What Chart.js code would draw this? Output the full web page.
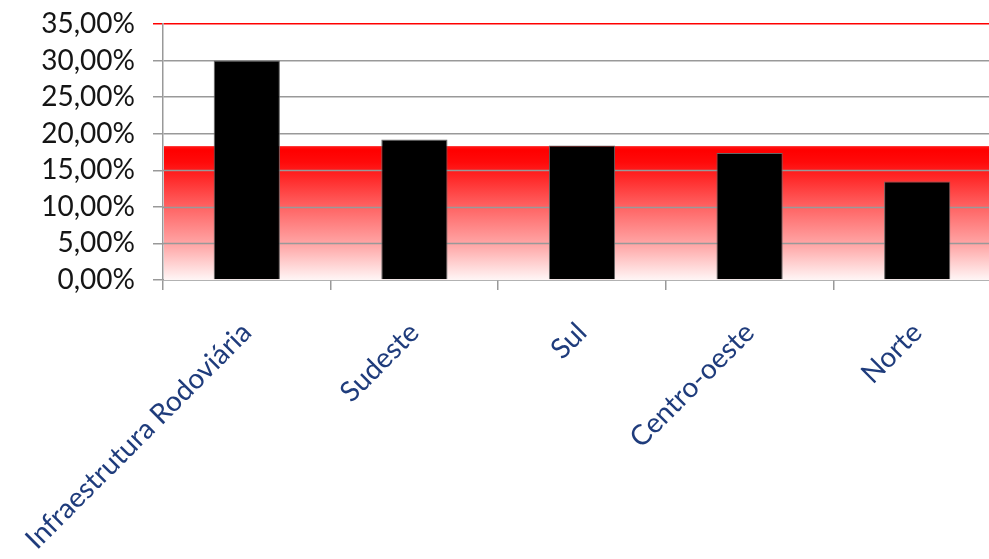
<!DOCTYPE html>
<html>
<head>
<meta charset="utf-8">
<script src="https://cdn.jsdelivr.net/npm/chart.js@4"></script>
<style>
    html, body { margin: 0; padding: 0; background: #fff; overflow: hidden; }
    #wrap { position: relative; width: 1001px; height: 559px; }
</style>
</head>
<body>
<div id="wrap"><canvas id="chart"></canvas></div>
<script>
// Data
const categories = ['Infraestrutura Rodoviária', 'Sudeste', 'Sul', 'Centro-oeste', 'Norte'];
const values = [30.0, 19.2, 18.4, 17.35, 13.45];
const yTicks = [0, 5, 10, 15, 20, 25, 30, 35];
const bandTop = 18.3; // red band behind the bars, from 0 up to this value

const fontFamily = "Lato, 'Open Sans', sans-serif";

// red band fading to white toward the axis
const bandPlugin = {
    id: 'band',
    beforeDatasetsDraw(chart) {
        const { ctx, chartArea, scales } = chart;
        const top = scales.y.getPixelForValue(bandTop);
        const bottom = scales.y.getPixelForValue(0);
        const g = ctx.createLinearGradient(0, top, 0, bottom);
        g.addColorStop(0, 'rgba(255,0,0,0.9)');
        g.addColorStop(0.03, '#ff0000');
        g.addColorStop(0.12, '#ff0a0a');
        g.addColorStop(0.45, '#ff6262');
        g.addColorStop(0.75, '#ffaaaa');
        g.addColorStop(1, '#fff6f6');
        ctx.save();
        ctx.fillStyle = g;
        ctx.fillRect(chartArea.left + 1, top, chartArea.right - chartArea.left, bottom - top);
        // redraw grid lines over the band
        ctx.strokeStyle = '#999';
        ctx.lineWidth = 1.5;
        yTicks.forEach(v => {
            if (v === 0 || v >= bandTop) return;
            const y = Math.round(scales.y.getPixelForValue(v)) + 0.5;
            ctx.beginPath();
            ctx.moveTo(chartArea.left, y);
            ctx.lineTo(chartArea.right, y);
            ctx.stroke();
        });
        ctx.restore();
    }
};

new Chart(document.getElementById('chart'), {
    type: 'bar',
    data: {
        labels: categories,
        datasets: [{
            data: values,
            backgroundColor: '#000',
            borderColor: '#666',
            borderWidth: 1,
            barPercentage: 0.395,
            categoryPercentage: 1
        }]
    },
    options: {
        responsive: true,
        maintainAspectRatio: false,
        animation: false,
        layout: { padding: { top: 24, right: 0, bottom: 0, left: 0 } },
        plugins: {
            legend: { display: false },
            tooltip: { enabled: false }
        },
        scales: {
            x: {
                afterFit(scale) {
                    scale.height = 279;
                    scale.paddingLeft = 0;
                    scale.paddingRight = 0;
                },
                grid: {
                    drawOnChartArea: false,
                    drawTicks: true,
                    tickLength: 10,
                    color: '#999',
                    lineWidth: 1.5
                },
                border: { color: '#999', width: 1.5 },
                ticks: {
                    maxRotation: 45,
                    minRotation: 45,
                    autoSkip: false,
                    padding: 26,
                    color: '#1f3c7c',
                    font: { family: fontFamily, size: 28 }
                }
            },
            y: {
                min: 0,
                max: 35,
                afterFit(scale) {
                    scale.width = 163;
                    scale.paddingTop = 0;
                    scale.paddingBottom = 0;
                },
                afterBuildTicks(scale) {
                    scale.ticks = yTicks.map(v => ({ value: v }));
                },
                grid: {
                    color: ctx => ctx.tick && ctx.tick.value === 35 ? '#ff0000' : '#999',
                    lineWidth: 1.5,
                    tickLength: 10
                },
                border: { color: '#999', width: 1.5 },
                ticks: {
                    autoSkip: false,
                    padding: 18,
                    color: '#151515',
                    font: { family: fontFamily, size: 28 },
                    callback: v => v.toFixed(2).replace('.', ',') + '%'
                }
            }
        }
    },
    plugins: [bandPlugin]
});
</script>
</body>
</html>
